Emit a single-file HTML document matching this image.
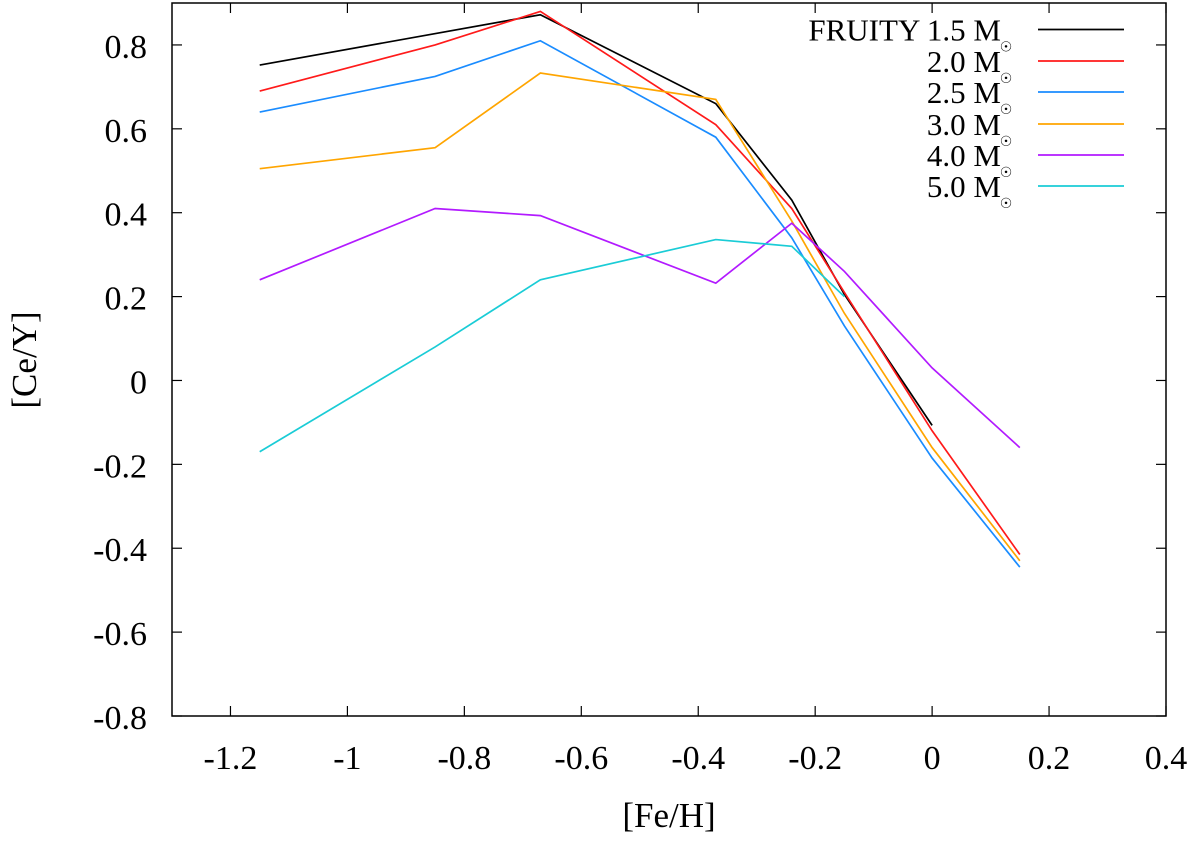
<!DOCTYPE html>
<html><head><meta charset="utf-8"><style>
body{margin:0;background:#fff}
svg text{font-family:"Liberation Serif",serif;fill:#000}
</style></head><body>
<svg id="chart" width="1200" height="837" xmlns="http://www.w3.org/2000/svg">
<g id="grid"></g>
<g id="series"></g>
<g id="legend"></g>
</svg>
<script>
const xTicks=[-1.2,-1,-0.8,-0.6,-0.4,-0.2,0,0.2,0.4];
const xTickLabels=["-1.2","-1","-0.8","-0.6","-0.4","-0.2","0","0.2","0.4"];
const yTicks=[-0.8,-0.6,-0.4,-0.2,0,0.2,0.4,0.6,0.8];
const yTickLabels=["-0.8","-0.6","-0.4","-0.2","0","0.2","0.4","0.6","0.8"];
const feh=[-1.15,-0.85,-0.67,-0.37,-0.24,-0.15,0,0.15];
const fehM15=[-1.15,-0.67,-0.37,-0.24,-0.15,0];
const m15=[0.752,0.872,0.66,0.43,0.205,-0.107];
const m20=[0.69,0.80,0.88,0.61,0.41,0.21,-0.12,-0.415];
const m25=[0.64,0.725,0.81,0.58,0.34,0.13,-0.185,-0.445];
const m30=[0.505,0.555,0.733,0.67,0.38,0.16,-0.16,-0.43];
const m40=[0.24,0.41,0.393,0.232,0.375,0.26,0.03,-0.16];
const fehM50=[-1.15,-0.85,-0.67,-0.37,-0.24,-0.15];
const m50=[-0.17,0.08,0.24,0.336,0.32,0.2];
const labels=["FRUITY 1.5 M","2.0 M","2.5 M","3.0 M","4.0 M","5.0 M"];
const colors=["#000000","#ff1a1a","#1a8cff","#ffa500","#b21aff","#1accd6"];
const L=172,R=1166,T=3,B=716,X0=-1.3,X1=0.4,Y0=-0.8,Y1=0.9;
const sx=v=>L+(v-X0)/(X1-X0)*(R-L);
const sy=v=>B-(v-Y0)/(Y1-Y0)*(B-T);
const NS="http://www.w3.org/2000/svg";
function mk(p,t,a){const e=document.createElementNS(NS,t);for(const k in a)e.setAttribute(k,a[k]);p.appendChild(e);return e;}
const g=document.getElementById('grid');
const frame=mk(g,'rect',{x:L,y:T,width:R-L,height:B-T,fill:'none',stroke:'#000','stroke-width':1.5});


xTicks.forEach((v,i)=>{const x=sx(v);
 mk(g,'line',{x1:x,x2:x,y1:B,y2:B-10,stroke:'#000','stroke-width':1.2});
 mk(g,'line',{x1:x,x2:x,y1:T,y2:T+10,stroke:'#000','stroke-width':1.2});
 const t=mk(g,'text',{x:x,y:B+53,'text-anchor':'middle','font-size':34});t.textContent=xTickLabels[i];
 
 });
yTicks.forEach((v,i)=>{const y=sy(v);
 mk(g,'line',{x1:L,x2:L+10,y1:y,y2:y,stroke:'#000','stroke-width':1.2});
 mk(g,'line',{x1:R,x2:R-10,y1:y,y2:y,stroke:'#000','stroke-width':1.2});
 const t=mk(g,'text',{x:L-25,y:y+13,'text-anchor':'end','font-size':34});t.textContent=yTickLabels[i];
 
 });
const xt=mk(g,'text',{x:669,y:827,'text-anchor':'middle','font-size':35});xt.textContent='[Fe/H]';


const yt=mk(g,'text',{x:0,y:0,'text-anchor':'middle','font-size':35,transform:'translate(36,360) rotate(-90)'});yt.textContent='[Ce/Y]';


const sg=document.getElementById('series');
const data=[[fehM15,m15],[feh,m20],[feh,m25],[feh,m30],[feh,m40],[fehM50,m50]];
const names=['m15','m20','m25','m30','m40','m50'];
data.forEach((d,i)=>{const pts=d[0].map((x,j)=>sx(x)+','+sy(d[1][j])).join(' ');
 const p=mk(sg,'polyline',{points:pts,fill:'none',stroke:colors[i],'stroke-width':1.7});
 
 });
const lg=document.getElementById('legend');
const rowsY=[29.5,61,92,124,155,186];
labels.forEach((s,i)=>{const y=rowsY[i];
 const t=mk(lg,'text',{x:1001,y:y+11,'text-anchor':'end','font-size':31});t.textContent=s;
 
 
 const sub=mk(lg,'text',{x:1006,y:y+22,'text-anchor':'middle','font-size':14});sub.textContent='☉';
 const l=mk(lg,'line',{x1:1038,x2:1124,y1:y,y2:y,stroke:colors[i],'stroke-width':1.7});
 
 });
</script>
</body></html>
